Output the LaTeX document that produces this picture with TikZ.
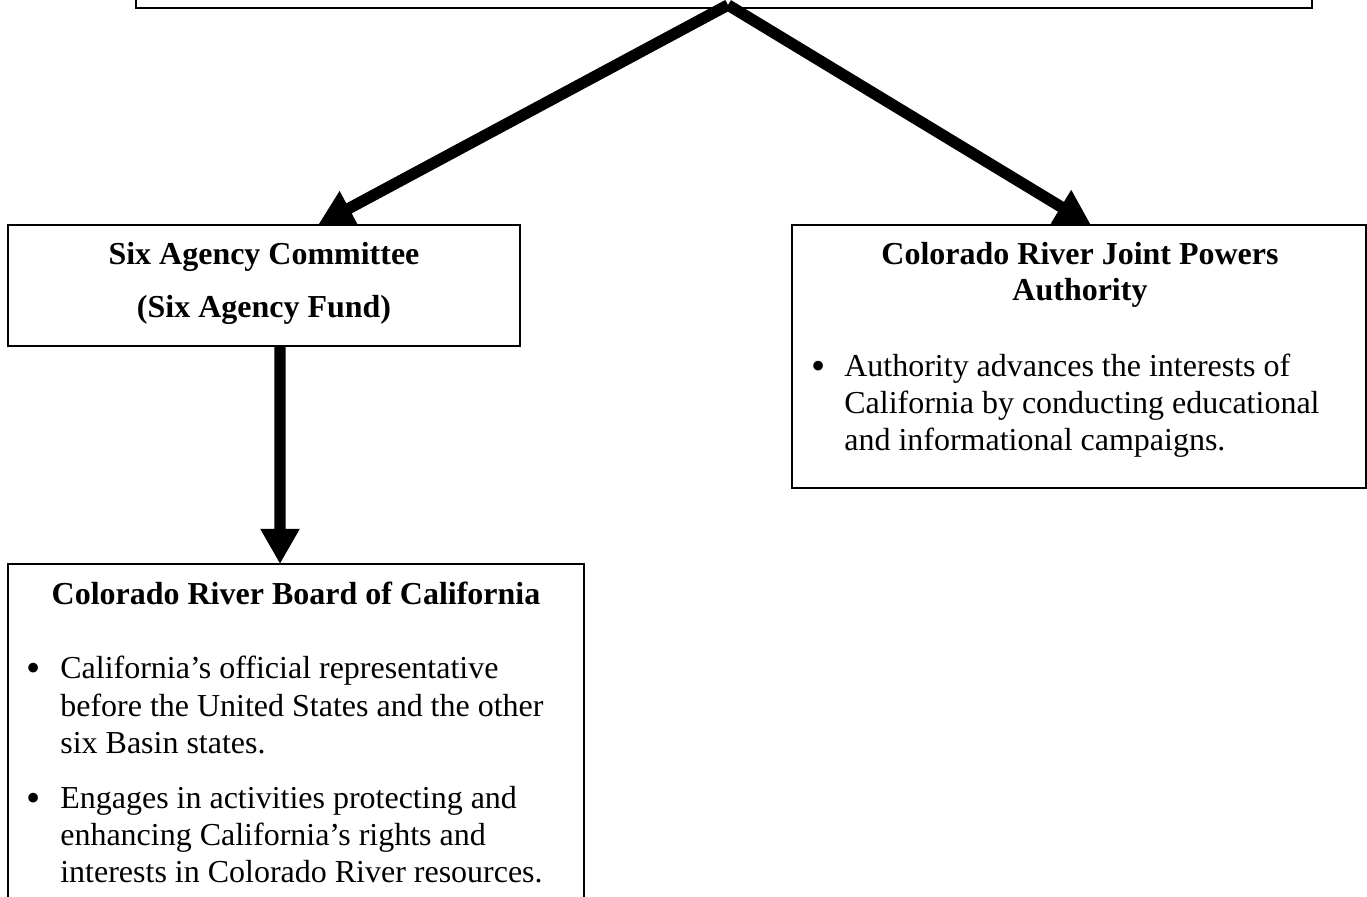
\documentclass[tikz,border=0pt]{standalone}
\usepackage{fontspec}
\setmainfont{Liberation Serif}
\usetikzlibrary{arrows.meta}
\newcommand{\chartfont}{\fontsize{18.2}{21}\selectfont}
\tikzset{
    box/.style={draw, line width=1.1pt, fill=white, inner sep=0pt, outer sep=0pt},
    flow/.style={line width=6.5pt, -{Triangle[width=21pt,length=20pt]}},
    head/.style={font=\chartfont\bfseries, anchor=base, inner sep=0pt},
    txt/.style={font=\chartfont, anchor=base west, inner sep=0pt},
    bul/.style={font=\fontsize{23}{23}\selectfont, anchor=base, inner sep=0pt, yshift=-0.06cm}
}
\begin{document}
\begin{tikzpicture}
        % Frame of the picture
        \useasboundingbox (0,0) rectangle (27.34,17.92);
        \clip (0,0) rectangle (27.34,17.92);

        % Boxes
        \node[box, anchor=south west, minimum width=23.52cm, minimum height=2cm] (top) at (2.72,17.76) {};
        \node[box, anchor=north west, minimum width=10.24cm, minimum height=2.42cm] (six) at (0.16,13.42) {};
        \node[box, anchor=north west, minimum width=11.48cm, minimum height=5.26cm] (jpa) at (15.84,13.42) {};
        \node[box, anchor=north west, minimum width=11.52cm, minimum height=7cm] (crb) at (0.16,6.64) {};

        % Arrows
        \coordinate (fork) at (14.56,17.82);
        \draw[flow] (fork) -- ([xshift=1.08cm]six.north);
        \draw[flow] (fork) -- ([xshift=0.24cm]jpa.north);
        \draw[flow] ([xshift=0.32cm]six.south) -- ([xshift=-0.32cm]crb.north);

        % Six Agency box
        \node[head] (sixA) at (5.28,12.62) {Six Agency Committee};
        \node[head] (sixB) at (5.28,11.56) {(Six Agency Fund)};

        % Joint Powers box
        \node[head] (jpaA) at (21.6,12.62) {Colorado River Joint Powers};
        \node[head] (jpaB) at (21.6,11.90) {Authority};
        \node[bul] (jpaDot) at (16.38,10.38) {•};
        \node[txt] (jpa1) at (16.88,10.38) {Authority advances the interests of};
        \node[txt] (jpa2) at (16.88,9.64) {California by conducting educational};
        \node[txt] (jpa3) at (16.88,8.90) {and informational campaigns.};

        % Board box
        \node[head] (crbA) at (5.92,5.84) {Colorado River Board of California};
        \node[bul] (crbDotA) at (0.67,4.36) {•};
        \node[txt] (crb1) at (1.2,4.36) {California’s official representative};
        \node[txt] (crb2) at (1.2,3.60) {before the United States and the other};
        \node[txt] (crb3) at (1.2,2.86) {six Basin states.};
        \node[bul] (crbDotB) at (0.67,1.76) {•};
        \node[txt] (crb4) at (1.2,1.76) {Engages in activities protecting and};
        \node[txt] (crb5) at (1.2,1.02) {enhancing California’s rights and};
        \node[txt] (crb6) at (1.2,0.28) {interests in Colorado River resources.};

\end{tikzpicture}
\end{document}
